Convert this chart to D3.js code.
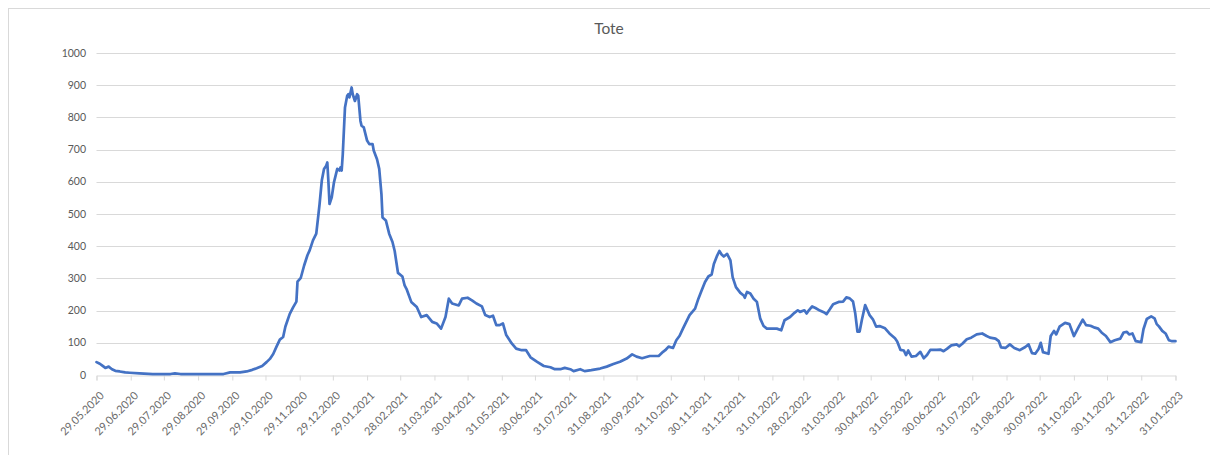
<!DOCTYPE html>
<html>
<head>
<meta charset="utf-8">
<script src="https://cdn.jsdelivr.net/npm/d3@7"></script>
<style>
    body { margin: 0; background: #fff; }
    svg { display: block; font-family: Lato, "Open Sans", sans-serif; }
</style>
</head>
<body>
<svg id="chart" width="1210" height="455"></svg>
<script>
/*global d3*/

// data: days since 29.05.2020 and daily deaths ("Tote")
var startDate = '29.05.2020';
var endDate = '31.01.2023';

var dayIndex = [
    0, 3, 5, 8, 11, 14, 17, 21, 26, 30, 39, 51, 67, 71, 76, 87, 103, 115, 121, 130,
    136, 141, 145, 150, 154, 157, 160, 163, 166, 169, 171, 173, 175, 178, 181, 182, 185, 188, 191, 193,
    196, 199, 201, 202, 204, 206, 208, 209, 210, 211, 213, 215, 218, 220, 221, 222, 223, 225, 227, 228,
    229, 231, 232, 234, 236, 237, 239, 240, 242, 245, 247, 250, 251, 254, 256, 258, 259, 262, 265, 268,
    270, 273, 277, 279, 281, 285, 290, 294, 299, 304, 308, 312, 316, 319, 322, 328, 331, 336, 340, 344,
    349, 352, 356, 359, 362, 365, 368, 371, 376, 380, 385, 389, 393, 399, 405, 411, 415, 420, 424, 429,
    432, 438, 442, 448, 456, 462, 468, 474, 480, 485, 489, 494, 501, 509, 513, 515, 518, 522, 525, 528,
    531, 534, 537, 542, 545, 548, 551, 554, 557, 559, 562, 564, 566, 568, 571, 574, 576, 579, 583, 586,
    587, 589, 592, 595, 598, 601, 604, 607, 611, 616, 620, 623, 628, 632, 635, 637, 641, 643, 645, 648,
    651, 655, 659, 661, 664, 667, 672, 676, 679, 682, 685, 687, 689, 691, 693, 696, 698, 700, 703, 706,
    709, 714, 718, 723, 725, 728, 731, 733, 735, 738, 742, 746, 749, 752, 755, 761, 764, 767, 770, 774,
    779, 781, 784, 788, 792, 797, 802, 806, 809, 814, 817, 819, 823, 827, 831, 836, 841, 844, 847, 850,
    853, 855, 857, 862, 864, 867, 869, 872, 877, 881, 885, 889, 893, 896, 900, 904, 907, 910, 914, 918,
    922, 927, 930, 933, 935, 938, 941, 946, 948, 951, 955, 958, 960, 962, 965, 968, 971, 974, 977
];

var tote = [
    40, 35, 30, 22, 26, 18, 13, 11, 8, 7, 5, 3, 3, 5, 3, 3, 3, 3, 8, 8,
    11, 16, 21, 28, 40, 50, 65, 88, 110, 118, 150, 170, 190, 210, 228, 290, 302, 340, 372, 387,
    418, 439, 500, 531, 604, 640, 650, 660, 600, 531, 552, 598, 640, 635, 645, 635, 686, 831, 867, 872,
    862, 893, 872, 851, 872, 867, 789, 774, 769, 728, 717, 717, 697, 670, 640, 562, 489, 480, 439, 413,
    385, 317, 306, 278, 265, 227, 211, 180, 186, 165, 160, 144, 180, 237, 222, 216, 237, 240, 232, 222,
    213, 186, 180, 184, 155, 155, 160, 124, 98, 82, 77, 77, 55, 41, 28, 24, 18, 18, 22, 18,
    12, 18, 12, 15, 20, 26, 34, 41, 51, 64, 57, 52, 59, 59, 72, 77, 88, 84, 108, 122,
    144, 165, 186, 206, 237, 263, 289, 306, 312, 345, 371, 385, 374, 368, 376, 356, 304, 273, 255, 247,
    240, 258, 253, 237, 227, 175, 152, 144, 144, 144, 139, 170, 180, 193, 201, 196, 201, 191, 201, 213,
    208, 200, 194, 189, 204, 220, 227, 228, 241, 238, 228, 192, 135, 135, 171, 217, 202, 186, 173, 150,
    152, 145, 129, 114, 104, 78, 76, 62, 76, 57, 59, 72, 52, 62, 78, 78, 79, 74, 81, 92,
    95, 89, 97, 111, 116, 126, 129, 121, 116, 113, 105, 86, 84, 95, 84, 77, 87, 95, 68, 66,
    81, 100, 71, 66, 121, 137, 126, 150, 162, 158, 121, 147, 172, 155, 153, 147, 144, 132, 121, 102,
    108, 113, 132, 134, 126, 129, 105, 102, 142, 174, 182, 176, 158, 151, 137, 129, 108, 105, 105
];

var tickLabels = [
    '29.05.2020', '29.06.2020', '29.07.2020', '29.08.2020', '29.09.2020', '29.10.2020',
    '29.11.2020', '29.12.2020', '29.01.2021', '28.02.2021', '31.03.2021', '30.04.2021',
    '31.05.2021', '30.06.2021', '31.07.2021', '31.08.2021', '30.09.2021', '31.10.2021',
    '30.11.2021', '31.12.2021', '31.01.2022', '28.02.2022', '31.03.2022', '30.04.2022',
    '31.05.2022', '30.06.2022', '31.07.2022', '31.08.2022', '30.09.2022', '31.10.2022',
    '30.11.2022', '31.12.2022', '31.01.2023'
];

var yTicks = [0, 100, 200, 300, 400, 500, 600, 700, 800, 900, 1000];

(function (d3) {
    'use strict';

    var svg = d3.select('#chart'),
        parse = d3.timeParse('%d.%m.%Y'),
        start = parse(startDate),
        margin = {left: 96.5, right: 1175.5, top: 53, bottom: 375},
        x,
        y,
        points,
        line,
        xAxis;

    x = d3.scaleTime()
        .domain([start, parse(endDate)])
        .range([margin.left, margin.right]);

    y = d3.scaleLinear()
        .domain([0, 1000])
        .range([margin.bottom, margin.top]);

    points = dayIndex.map(function (d, i) {
        return {date: d3.timeDay.offset(start, d), value: tote[i]};
    });

    // outer frame
    svg.append('rect')
        .attr('x', 8.5)
        .attr('y', 8.5)
        .attr('width', 1215)
        .attr('height', 460)
        .attr('fill', '#fff')
        .attr('stroke', '#d9d9d9');

    // title
    svg.append('text')
        .attr('x', 609)
        .attr('y', 34)
        .attr('text-anchor', 'middle')
        .attr('fill', '#595959')
        .style('font-size', '15.5px')
        .text('Tote');

    // horizontal grid + y labels
    svg.append('g')
        .selectAll('line')
        .data(yTicks.slice(1))
        .enter()
      .append('line')
        .attr('x1', margin.left)
        .attr('x2', margin.right)
        .attr('y1', function (d) { return Math.round(y(d)) + 0.5; })
        .attr('y2', function (d) { return Math.round(y(d)) + 0.5; })
        .attr('stroke', '#d9d9d9')
        .attr('stroke-width', 1);

    svg.append('g')
        .selectAll('text')
        .data(yTicks)
        .enter()
      .append('text')
        .attr('x', 86)
        .attr('y', function (d) { return y(d); })
        .attr('dy', '0.35em')
        .attr('text-anchor', 'end')
        .attr('fill', '#595959')
        .style('font-size', '10.5px')
        .text(function (d) { return d; });

    // x axis with rotated date labels
    xAxis = d3.axisBottom(x)
        .tickValues(tickLabels.map(parse))
        .tickSize(5)
        .tickFormat(d3.timeFormat('%d.%m.%Y'));

    svg.append('g')
        .attr('class', 'x-axis')
        .attr('transform', 'translate(0,' + (Math.round(y(0)) + 0.5) + ')')
        .call(xAxis)
        .call(function (g) {
            g.select('.domain').attr('stroke', '#d9d9d9');
            g.selectAll('.tick line').attr('stroke', '#d9d9d9');
            g.selectAll('.tick text')
                .attr('fill', '#6a6a6a')
                .style('font-size', '11px')
                .style('font-family', 'Lato, "Open Sans", sans-serif')
                .attr('text-anchor', 'end')
                .attr('x', 0)
                .attr('y', 0)
                .attr('dy', '0.35em')
                .attr('transform', 'translate(5,18) rotate(-45)');
        });

    // the series
    line = d3.line()
        .x(function (d) { return x(d.date); })
        .y(function (d) { return y(d.value); });

    svg.append('path')
        .datum(points)
        .attr('d', line)
        .attr('fill', 'none')
        .attr('stroke', '#4472c4')
        .attr('stroke-width', 2.7)
        .attr('stroke-linejoin', 'round')
        .attr('stroke-linecap', 'round');

}(window.d3));
</script>
</body>
</html>
